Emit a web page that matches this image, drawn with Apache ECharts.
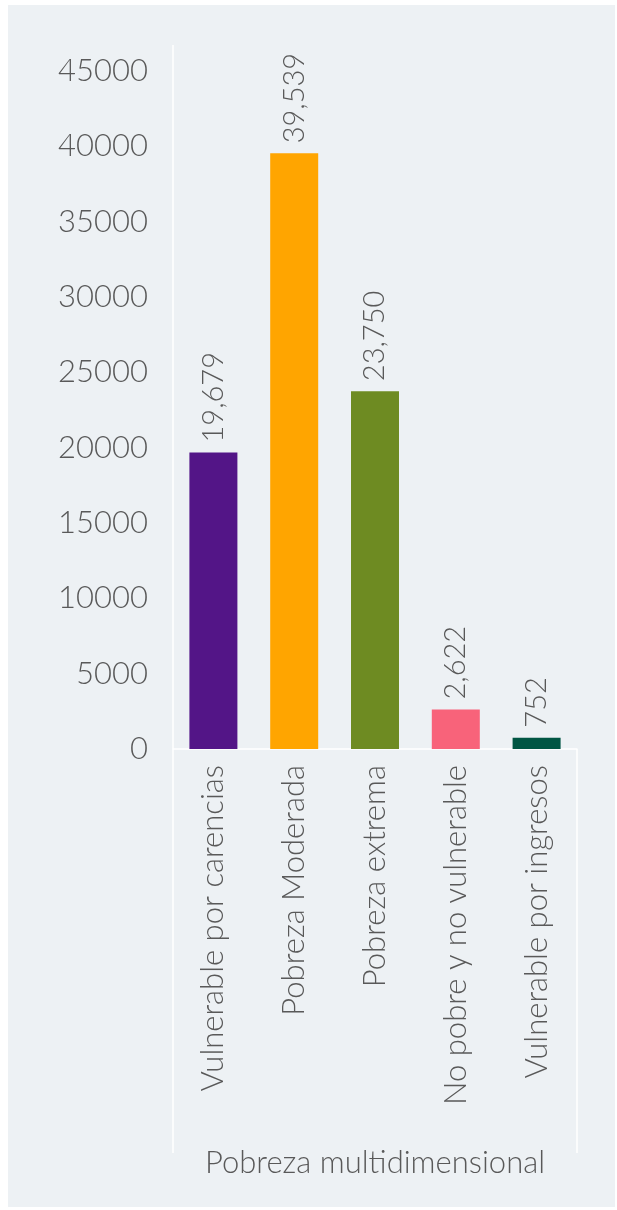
<!DOCTYPE html>
<html>
<head>
<meta charset="utf-8">
<script src="https://cdn.jsdelivr.net/npm/echarts@6/dist/echarts.min.js"></script>
<style>
  html, body { margin: 0; padding: 0; background: #ffffff; }
  #chart { width: 617px; height: 1210px; }
</style>
</head>
<body>
<div id="chart"></div>
<script>
// categories and values
const categories = [
  'Vulnerable por carencias',
  'Pobreza Moderada',
  'Pobreza extrema',
  'No pobre y no vulnerable',
  'Vulnerable por ingresos'
];
const values = [19679, 39539, 23750, 2622, 752];
const barColors = ['#531587', '#ffa500', '#6e8b22', '#f8637a', '#015643'];
const yTicks = { min: 0, max: 45000, interval: 5000 };

const font = 'Lato';
const textColor = '#595959';

const chart = echarts.init(document.getElementById('chart'));

const option = {
  backgroundColor: '#ffffff',
  graphic: [
    // panel background
    { type: 'rect', z: -10, shape: { x: 8, y: 5, width: 607, height: 1202 }, style: { fill: '#edf1f4' } },
    // frame lines
    { type: 'line', z: -5, shape: { x1: 173, y1: 45, x2: 173, y2: 1153 }, style: { stroke: '#ffffff', lineWidth: 1.5 } },
    { type: 'line', z: -5, shape: { x1: 577, y1: 749, x2: 577, y2: 1153 }, style: { stroke: '#ffffff', lineWidth: 1.5 } }
  ],
  grid: { left: 173, right: 40, top: 71, bottom: 461, containLabel: false },
  xAxis: {
    type: 'category',
    data: categories,
    name: 'Pobreza multidimensional',
    nameLocation: 'middle',
    nameGap: 398,
    nameTextStyle: { fontFamily: font, fontWeight: 300, fontSize: 31, color: textColor },
    axisLine: { show: true, lineStyle: { color: '#ffffff', width: 1.5 } },
    axisTick: { show: false },
    axisLabel: {
      rotate: 90,
      interval: 0,
      margin: 16,
      fontFamily: font,
      fontWeight: 300,
      fontSize: 31,
      color: textColor
    }
  },
  yAxis: {
    type: 'value',
    min: yTicks.min,
    max: yTicks.max,
    interval: yTicks.interval,
    splitLine: { show: false },
    axisLine: { show: false },
    axisTick: { show: false },
    axisLabel: {
      margin: 25,
      fontFamily: font,
      fontWeight: 300,
      fontSize: 31,
      color: textColor,
      formatter: (v) => String(v)
    }
  },
  series: [{
    type: 'bar',
    barWidth: 48,
    data: values.map((v, i) => ({ value: v, itemStyle: { color: barColors[i] } })),
    label: {
      show: true,
      position: 'top',
      rotate: 90,
      align: 'left',
      verticalAlign: 'middle',
      distance: 10,
      fontFamily: font,
      fontWeight: 300,
      fontSize: 29,
      color: textColor,
      formatter: (p) => p.value.toLocaleString('en-US')
    }
  }]
};

chart.setOption(option);
</script>
</body>
</html>
